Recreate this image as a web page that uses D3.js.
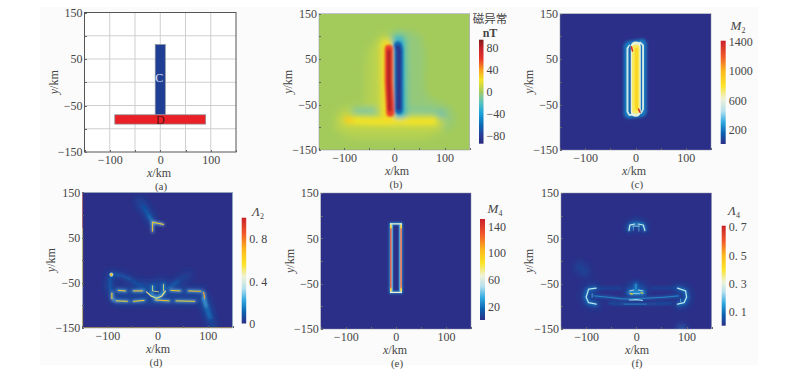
<!DOCTYPE html>
<html>
<head>
<meta charset="utf-8">
<script src="https://cdn.jsdelivr.net/npm/d3@7"></script>
<style>
  html, body { margin: 0; padding: 0; background: #fff; }
  svg { display: block; }
  text { font-family: "Liberation Serif", serif; fill: #454545; }
  .tick text { font-size: 12px; }
  .axis path, .axis line { stroke: #666; shape-rendering: crispEdges; }
</style>
</head>
<body>
<svg id="chart" width="801" height="370"></svg>
<script>
var xTicks = [-150, -100, -50, 0, 50, 100, 150];
var xLabelled = [-100, 0, 100];
var yLabelled = [150, 50, -50, -150];
var gridLines = [-100, -50, 0, 50, 100];

// panel (a): the two model bodies, [x0, x1, y0, y1] in km
var bodyC = [-10, 10, -70, 81];
var bodyD = [-90, 90, -90, -70];

// colour bars: [value, colour]
var stopsB = [[-95, '#272a7e'], [-80, '#2b3a95'], [-60, '#0a6cb5'], [-40, '#1ba0db'], [-20, '#58c3bd'], [-7, '#8cc88a'], [0, '#a3cb5b'], [8, '#c4d64a'], [22, '#f3e326'], [40, '#f9a11b'], [60, '#e8352a'], [80, '#c3202a'], [95, '#7f1a1c']];
var stopsC = [[0, '#2b2f87'], [150, '#0a62b0'], [300, '#2fa8e0'], [450, '#b5e0ee'], [620, '#eef2d8'], [800, '#fbe426'], [1000, '#fbb81c'], [1200, '#f1592a'], [1418, '#c9202a']];
var stopsD = [[0, '#2b2f87'], [0.11, '#0a62b0'], [0.22, '#2fa8e0'], [0.33, '#b5e0ee'], [0.44, '#eef2d8'], [0.56, '#fbe426'], [0.7, '#fbb81c'], [0.85, '#f1592a'], [1, '#c9202a']];
var stopsE = [[0, '#2b2f87'], [16, '#0a62b0'], [33, '#2fa8e0'], [50, '#b5e0ee'], [66, '#eef2d8'], [85, '#fbe426'], [105, '#fbb81c'], [128, '#f1592a'], [151, '#c9202a']];
var stopsF = [[0, '#2b2f87'], [0.08, '#0a62b0'], [0.16, '#2fa8e0'], [0.24, '#b5e0ee'], [0.31, '#eef2d8'], [0.4, '#fbe426'], [0.5, '#fbb81c'], [0.6, '#f1592a'], [0.71, '#c9202a']];

var ticksB = [80, 40, 0, -40, -80];
var ticksC = [1400, 1000, 600, 200];
var ticksD = [0.8, 0.4, 0];
var ticksE = [140, 100, 60, 20];
var ticksF = [0.7, 0.5, 0.3, 0.1];

// fields: closed regions [value, points] and traces [value, width km, points]
var bRegions = [
  [4.5, [[-28, 92], [-48, 78], [-56, 40], [-58, -30], [-62, -50], [-98, -55], [-116, -72], [-116, -104], [-90, -122], [0, -126], [70, -122], [100, -104], [40, -72], [4, -72], [2, 90]]],
  [-4.5, [[4, 100], [30, 112], [52, 100], [60, 66], [60, -10], [68, -34], [100, -50], [118, -68], [118, -92], [104, -106], [80, -100], [60, -74], [6, -72]]]
];
var bSoft = [
  [8, 30, [[-97, -86], [85, -88]]],
  [-15, 12, [[-78, -65], [-32, -65]]],
  [-13, 10, [[28, -64], [78, -67]]],
  [-26, 12, [[90, -72], [94, -72]]],
  [9, 38, [[-15, 84], [-15, -74]]],
  [-9, 38, [[9, 92], [10, -68]]]
];
var bMid = [
  [22, 14, [[-92, -85], [-50, -87], [40, -88], [78, -87]]],
  [28, 12, [[-95, -82], [-88, -85]]],
  [24, 24, [[-14, 80], [-14, 0], [-12, -76]]],
  [-28, 24, [[9, 88], [10, 0], [11, -68]]]
];
var bCore = [
  [58, 16, [[-11, 73], [-11, 0], [-8, -68]]],
  [-62, 17, [[7, 80], [9, 72], [9, 0], [9, -62]]],
  [84, 7, [[-11, 68], [-11, 0], [-9, -62]]],
  [-86, 9, [[7, 76], [9, 68], [9, 0], [9, -58]]]
];

var cGlow = [
  [210, 14, [[-16, 79], [-16, -71]]],
  [210, 14, [[15, 84], [15, -66]]],
  [210, 12, [[-14, 83], [14, 88]]],
  [210, 12, [[-14, -74], [14, -70]]]
];
var cLines = [
  [520, 3.8, [[-12, 80], [-16, 74], [-16, -66], [-12, -73], [-4, -72], [4, -68]]],
  [520, 3.8, [[-4, 84], [10, 86], [15, 80], [15, -60], [11, -68]]],
  [130, 3, [[-10.5, 78], [-10.5, -68]]],
  [170, 2.5, [[11, 80], [11, -62]]],
  [600, 20, [[0.5, 78], [0.5, -66]]],
  [740, 15, [[0.5, 74], [0.5, -62]]],
  [850, 7, [[2, 72], [2, -58]]],
  [1380, 3, [[-8, 77], [-6, 68]]],
  [1380, 3, [[6, -60], [9, -67]]]
];

var dBroad = [
  [0.07, 14, [[-10, 84], [-22, 108], [-36, 130]]],
  [0.06, 12, [[-95, -32], [-97, -60], [-88, -82]]],
  [0.06, 9, [[-90, -30], [-62, -38], [-38, -54], [-22, -68]]],
  [0.06, 11, [[20, -62], [42, -46], [62, -32]]],
  [0.05, 10, [[-5, -68], [-18, -58], [-30, -48]]],
  [0.1, 14, [[92, -84], [98, -105], [106, -132]]],
  [0.06, 14, [[106, -132], [110, -148]]],
  [0.07, 12, [[-82, -68], [88, -68]]],
  [0.07, 12, [[-85, -90], [75, -90]]],
  [0.06, 14, [[-10, -55], [12, -50]]]
];
var dGlow = [
  [0.17, 4, [[-10, 84], [-18, 100]]],
  [0.11, 4, [[-18, 100], [-28, 118]]],
  [0.14, 2.5, [[-90, -30], [-72, -34], [-55, -42]]],
  [0.11, 2.5, [[-55, -42], [-38, -54], [-22, -68]]],
  [0.13, 3, [[-93, -34], [-95, -60], [-88, -80]]],
  [0.13, 3, [[22, -62], [42, -46]]],
  [0.24, 5, [[92, -84], [98, -105]]],
  [0.14, 5, [[98, -105], [105, -128]]],
  [0.24, 5, [[-14, -74], [-2, -84], [14, -72]]],
  [0.2, 4, [[-10, -56], [-10, -68]]],
  [0.2, 4, [[12, -52], [12, -68]]],
  [0.28, 3.6, [[-81, -67], [-62, -68]]],
  [0.28, 3.6, [[-50, -68], [-28, -68]]],
  [0.28, 3.6, [[25, -67], [47, -68]]],
  [0.28, 3.6, [[60, -68], [88, -69]]],
  [0.28, 3.6, [[92, -70], [94, -85]]],
  [0.28, 3.6, [[-91, -72], [-91, -86], [-84, -90]]],
  [0.28, 3.6, [[-84, -90], [-58, -91]]],
  [0.28, 3.6, [[-50, -91], [-25, -89]]],
  [0.28, 3.6, [[-6, -88], [25, -90]]],
  [0.28, 3.6, [[35, -90], [76, -91]]],
  [0.3, 4, [[-10, 84], [12, 79]]],
  [0.3, 3.5, [[-10, 84], [-10, 62]]]
];
var dLines = [
  [0.62, 1.9, [[-10, 84], [12, 79]]],
  [0.64, 1.8, [[-10, 82], [-10, 64]]],
  [0.62, 1.9, [[-78, -67], [-64, -68]]],
  [0.66, 1.9, [[-48, -68], [-30, -68]]],
  [0.66, 1.9, [[27, -67], [45, -68]]],
  [0.68, 1.9, [[62, -68], [86, -69]]],
  [0.74, 2.2, [[92, -71], [94, -84]]],
  [0.66, 2, [[-91, -73], [-91, -85]]],
  [0.6, 1.9, [[-82, -90], [-60, -91]]],
  [0.62, 1.9, [[-48, -91], [-27, -89]]],
  [0.66, 1.9, [[-4, -88], [23, -90]]],
  [0.62, 1.9, [[37, -90], [74, -91]]],
  [0.5, 2, [[-22, -70], [-12, -80], [-2, -84], [8, -80], [16, -68]]],
  [0.5, 1.5, [[-10, -57], [-10, -68], [2, -70]]],
  [0.52, 1.5, [[12, -54], [12, -68]]],
  [0.3, 8, [[-92, -32], [-92, -32.5]]],
  [0.7, 5, [[-92, -32], [-92, -32.5]]]
];
var dEdges = [
  [0.98, 3, [[-150, 150], [-150, 70]]],
  [0.6, 3, [[-150, 70], [-150, -60]]],
  [0.38, 3, [[-150, -60], [-150, -105]]],
  [0.58, 3, [[-150, -105], [-150, -150]]],
  [0.62, 2, [[-150, -150], [150, -150]]],
  [0.35, 1.5, [[-150, 150], [150, 150]]],
  [0.3, 2, [[150, 150], [150, -150]]]
];

var eGlow = [
  [26, 6, [[-10, 82], [-10, -69]]],
  [26, 6, [[10.5, 82], [10.5, -69]]],
  [26, 5, [[-10, 82], [10.5, 82]]],
  [26, 5, [[-10, -69], [10.5, -69]]]
];
var eLines = [
  [40, 1.5, [[-6.5, 80], [-6.5, -66]]],
  [40, 1.5, [[7, 80], [7, -66]]],
  [66, 2.6, [[-10, 82], [10.5, 82]]],
  [66, 2.6, [[-10, -69], [10.5, -69]]],
  [58, 3.6, [[-10, 82], [-10, -69]]],
  [58, 3.6, [[10.5, 82], [10.5, -69]]],
  [140, 2.4, [[-10, 72], [-10, -60]]],
  [134, 2.4, [[10.5, 72], [10.5, -60]]],
  [95, 2.6, [[-10, 79], [-10, 72]]],
  [95, 2.6, [[10.5, 79], [10.5, 72]]],
  [95, 2.6, [[-10, -60], [-10, -66]]],
  [95, 2.6, [[10.5, -60], [10.5, -66]]]
];

var fBroad = [
  [0.035, 20, [[-114, -12], [-102, -24]]],
  [0.05, 14, [[-82, -60], [-97, -63], [-101, -80], [-96, -92], [-80, -96]]],
  [0.05, 14, [[83, -60], [98, -66], [101, -80], [96, -92], [83, -96]]],
  [0.06, 14, [[-14, 74], [-4, 82], [4, 82], [15, 74]]],
  [0.07, 18, [[-12, -66], [0, -58], [12, -66]]],
  [0.14, 12, [[90, -150], [90, -151]]]
];
var fGlow = [
  [0.1, 6, [[-82, -60], [-97, -63], [-101, -80], [-96, -92], [-80, -96]]],
  [0.1, 6, [[83, -60], [98, -66], [101, -80], [96, -92], [83, -96]]],
  [0.12, 5, [[-15, 68], [-12, 80], [-3, 82], [4, 82], [14, 80], [17, 68]]],
  [0.08, 2.5, [[-78, -60], [-30, -60]]],
  [0.08, 2.5, [[30, -60], [80, -60]]],
  [0.11, 3, [[-84, -77], [-55, -80], [-25, -84], [20, -82], [55, -80], [84, -77]]],
  [0.09, 3, [[-55, -93], [-20, -95], [20, -95], [70, -93]]],
  [0.12, 5, [[-1, -50], [-1, -62]]],
  [0.14, 8, [[-14, -70], [14, -70]]]
];
var fLines = [
  [0.25, 2.5, [[-80, -60], [-95, -62], [-100, -80], [-95, -92], [-80, -95]]],
  [0.25, 2.5, [[82, -60], [98, -66], [100, -80], [95, -92], [82, -95]]],
  [0.15, 1.3, [[-84, -77], [-55, -80], [-25, -84], [20, -82], [55, -80], [84, -77]]],
  [0.13, 1.5, [[-25, -95], [20, -95]]],
  [0.22, 2.4, [[-14, -86], [0, -85], [12, -87]]],
  [0.18, 1.6, [[-88, -72], [-88, -80]]],
  [0.18, 1.6, [[88, -84], [88, -90]]],
  [0.26, 2.4, [[-14.7, 67], [-13, 79], [-3, 81.6]]],
  [0.26, 2.4, [[17, 67], [13.7, 79.4], [3.7, 81.6]]],
  [0.24, 1.6, [[-7, 77], [6, 77]]],
  [0.2, 1.3, [[-6, 77], [-6, 68]]],
  [0.2, 1.3, [[5, 77], [5, 66]]],
  [0.25, 1.8, [[-13, -66], [-5, -64]]],
  [0.25, 1.8, [[4, -64], [13, -66]]],
  [0.24, 1.5, [[-6, -72], [6, -72]]],
  [0.44, 2.5, [[-12, -72], [-8, -73]]],
  [0.42, 2.2, [[9, -70], [13, -71]]],
  [0.17, 1.5, [[-1, -52], [-1, -62]]]
];

var svg = d3.select('#chart');
var defs = svg.append('defs');

// faint off-white sheet behind the figure
svg.append('rect').attr('x', 40).attr('y', 7).attr('width', 718).attr('height', 358).attr('fill', '#fbfbfb');

[0.5, 0.7, 1, 1.6, 2.5, 3.5].forEach(s => {
  defs.append('filter')
    .attr('id', 'blur' + String(s).replace('.', '_'))
    .attr('filterUnits', 'userSpaceOnUse')
    .attr('x', 0).attr('y', 0).attr('width', 801).attr('height', 370)
    .append('feGaussianBlur').attr('stdDeviation', s);
});

var blurId = s => `url(#blur${ String(s).replace('.', '_') })`;

var colorOf = stops => d3.scaleLinear()
  .domain(stops.map(d => d[0]))
  .range(stops.map(d => d[1]))
  .clamp(true);

var drawPanel = (p) => {
  var x = d3.scaleLinear().domain([-150, 150]).range([p.left, p.right]);
  var y = d3.scaleLinear().domain([-150, 150]).range([p.bottom, p.top]);
  var color = p.stops ? colorOf(p.stops) : null;
  var kmPx = d3.scaleLinear().domain([0, 300]).range([0, p.right - p.left]);
  var line = d3.line().x(d => x(d[0])).y(d => y(d[1]));
  var closed = d3.line().x(d => x(d[0])).y(d => y(d[1])).curve(d3.curveCatmullRomClosed.alpha(0.5));

  var clipId = 'clip-' + p.name;
  defs.append('clipPath').attr('id', clipId).append('rect')
    .attr('x', p.left).attr('y', p.top)
    .attr('width', p.right - p.left).attr('height', p.bottom - p.top);

  var plot = svg.append('g').attr('clip-path', `url(#${ clipId })`);
  plot.append('rect')
    .attr('x', p.left).attr('y', p.top)
    .attr('width', p.right - p.left).attr('height', p.bottom - p.top)
    .attr('fill', p.stops ? color(p.base) : '#fff');

  (p.layers || []).forEach(layer => {
    var g = plot.append('g').attr('filter', blurId(layer.blur));
    if (layer.regions) {
      g.selectAll('path').data(layer.regions).enter().append('path')
        .attr('d', d => closed(d[1]))
        .attr('fill', d => color(d[0]));
    }
    if (layer.traces) {
      g.selectAll('path.trace').data(layer.traces).enter().append('path')
        .attr('class', 'trace')
        .attr('d', d => line(d[2]))
        .attr('fill', 'none')
        .attr('stroke', d => color(d[0]))
        .attr('stroke-width', d => kmPx(d[1]))
        .attr('stroke-linecap', 'round')
        .attr('stroke-linejoin', 'round');
    }
  });

  if (p.grid) {
    plot.selectAll('line.gx').data(gridLines).enter().append('line')
      .attr('x1', d => x(d)).attr('x2', d => x(d)).attr('y1', p.top).attr('y2', p.bottom)
      .attr('stroke', '#cfcfcf').attr('stroke-width', 1);
    plot.selectAll('line.gy').data(gridLines).enter().append('line')
      .attr('y1', d => y(d)).attr('y2', d => y(d)).attr('x1', p.left).attr('x2', p.right)
      .attr('stroke', '#cfcfcf').attr('stroke-width', 1);
    [bodyC, bodyD].forEach((b, i) => {
      plot.append('rect')
        .attr('x', x(b[0])).attr('width', x(b[1]) - x(b[0]))
        .attr('y', y(b[3])).attr('height', y(b[2]) - y(b[3]))
        .attr('fill', i ? '#ea2027' : '#1f3f94')
        .attr('stroke', '#8a8f9a').attr('stroke-width', 0.7);
    });
    svg.append('text').attr('x', x(-2)).attr('y', y(10)).attr('dy', '.35em')
      .attr('text-anchor', 'middle').style('font-size', '12px').style('fill', '#dfe6f4').text('C');
    svg.append('text').attr('x', x(0)).attr('y', y(-80)).attr('dy', '.35em')
      .attr('text-anchor', 'middle').style('font-size', '12px').style('fill', '#5a0f14').text('D');
  }

  // frame and axes
  svg.append('rect')
    .attr('x', p.left).attr('y', p.top)
    .attr('width', p.right - p.left).attr('height', p.bottom - p.top)
    .attr('fill', 'none').attr('stroke', p.grid ? '#555' : '#8c8fa8').attr('stroke-width', p.grid ? 1 : 0.5);

  var xAxis = d3.axisBottom(x).tickValues(xTicks).tickSize(-2).tickPadding(3)
    .tickFormat(d => xLabelled.includes(d) ? String(d).replace('-', '\u2212') : '');
  var yAxis = d3.axisLeft(y).tickValues(xTicks).tickSize(-2).tickPadding(2)
    .tickFormat(d => yLabelled.includes(d) ? String(d).replace('-', '\u2212') : '');

  svg.append('g').attr('class', 'axis').attr('transform', `translate(0, ${ p.bottom })`).call(xAxis)
    .call(g => g.select('.domain').remove())
    .call(g => g.selectAll('.tick text').filter(d => !xLabelled.includes(d)).remove());
  svg.append('g').attr('class', 'axis').attr('transform', `translate(${ p.left }, 0)`).call(yAxis)
    .call(g => g.select('.domain').remove())
    .call(g => g.selectAll('.tick text').filter(d => !yLabelled.includes(d)).remove());

  var xl = svg.append('text').attr('x', p.xLabelX).attr('y', p.bottom + 24.5).attr('text-anchor', 'middle').style('font-size', '12px');
  xl.append('tspan').style('font-style', 'italic').text('x');
  xl.append('tspan').text('/km');
  svg.append('text').attr('x', p.capX).attr('y', p.bottom + 37.5).attr('text-anchor', 'middle').style('font-size', '11px').text(p.caption);

  var yl = svg.append('text').attr('transform', `translate(${ p.yLabelX }, ${ (p.top + p.bottom) / 2 }) rotate(-90)`)
    .attr('text-anchor', 'middle').style('font-size', '12px');
  yl.append('tspan').style('font-style', 'italic').text('y');
  yl.append('tspan').text('/km');

  if (!p.stops) return;

  // colour bar
  var barScale = d3.scaleLinear().domain(p.barDomain).range([p.barBottom, p.barTop]);
  var gradId = 'grad-' + p.name;
  var grad = defs.append('linearGradient').attr('id', gradId).attr('x1', 0).attr('x2', 0).attr('y1', 1).attr('y2', 0);
  p.stops.forEach(s => {
    grad.append('stop')
      .attr('offset', (s[0] - p.barDomain[0]) / (p.barDomain[1] - p.barDomain[0]))
      .attr('stop-color', s[1]);
  });
  svg.append('rect')
    .attr('x', p.barX).attr('y', p.barTop)
    .attr('width', p.barW).attr('height', p.barBottom - p.barTop)
    .attr('fill', `url(#${ gradId })`);
  var barAxis = d3.axisRight(barScale).tickValues(p.barTicks).tickSize(0).tickPadding(3)
    .tickFormat(d => p.spaced ? String(d).replace('.', '. ') : String(d).replace('-', '\u2212'));
  svg.append('g').attr('class', 'axis')
    .attr('transform', `translate(${ p.barX + p.barW }, 0)`).call(barAxis)
    .call(g => g.select('.domain').remove());

  // colour bar title
  if (p.title) {
    var t = svg.append('text').attr('x', p.titleX).attr('y', p.titleY).attr('text-anchor', 'middle').style('font-size', '13px');
    t.append('tspan').style('font-style', 'italic').text(p.title);
    t.append('tspan').attr('dy', 3).style('font-size', '8px').text(p.sub);
  }
};

var panels = [
  { name: 'a', left: 84.5, right: 236, top: 12.5, bottom: 152, grid: true, xLabelX: 159, capX: 161, yLabelX: 58, caption: '(a)' },
  { name: 'b', left: 319, right: 469.7, top: 13.7, bottom: 150, xLabelX: 397, capX: 396, yLabelX: 292, caption: '(b)',
    stops: stopsB, base: 0, barDomain: [-95, 95], barX: 479, barW: 4.5, barTop: 39.7, barBottom: 143.7, barTicks: ticksB,
    layers: [{ blur: 3.5, regions: bRegions, traces: bSoft }, { blur: 2.5, traces: bMid }, { blur: 1, traces: bCore }] },
  { name: 'c', left: 560, right: 711, top: 13.7, bottom: 150, xLabelX: 634, capX: 637, yLabelX: 533, caption: '(c)',
    stops: stopsC, base: 0, barDomain: [0, 1418], barX: 720.7, barW: 5, barTop: 40.7, barBottom: 144, barTicks: ticksC,
    title: 'M', sub: '2', titleX: 738, titleY: 30,
    layers: [{ blur: 1.6, traces: cGlow }, { blur: 0.7, traces: cLines }] },
  { name: 'd', left: 82.3, right: 232.7, top: 192.3, bottom: 328, xLabelX: 158, capX: 156, yLabelX: 55, caption: '(d)',
    stops: stopsD, base: 0, barDomain: [0, 1], barX: 241.7, barW: 4.5, barTop: 217.7, barBottom: 323.5, barTicks: ticksD, spaced: true,
    title: '\u039b', sub: '2', titleX: 258, titleY: 216,
    layers: [{ blur: 3.5, traces: dBroad }, { blur: 1.6, traces: dGlow }, { blur: 0.5, traces: dEdges }, { blur: 0.7, traces: dLines }] },
  { name: 'e', left: 320.7, right: 471, top: 193, bottom: 329, xLabelX: 395, capX: 397, yLabelX: 294, caption: '(e)',
    stops: stopsE, base: 0, barDomain: [0, 151], barX: 480, barW: 5, barTop: 219, barBottom: 320, barTicks: ticksE,
    title: 'M', sub: '4', titleX: 495, titleY: 213,
    layers: [{ blur: 1, traces: eGlow }, { blur: 0.5, traces: eLines }] },
  { name: 'f', left: 561, right: 711.7, top: 193, bottom: 329, xLabelX: 637, capX: 637, yLabelX: 533, caption: '(f)',
    stops: stopsF, base: 0, barDomain: [0, 0.71], barX: 721.7, barW: 4, barTop: 225.7, barBottom: 325.7, barTicks: ticksF, spaced: true,
    title: '\u039b', sub: '4', titleX: 734, titleY: 215,
    layers: [{ blur: 3.5, traces: fBroad }, { blur: 1.6, traces: fGlow }, { blur: 0.7, traces: fLines }] }
];

panels.forEach(drawPanel);

// unit block above the colour bar of panel (b)
svg.append('text').attr('x', 490).attr('y', 23).attr('text-anchor', 'middle')
  .style('font-family', '"Noto Sans CJK SC"').style('font-size', '11.5px').text('磁异常');
svg.append('text').attr('x', 490).attr('y', 37).attr('text-anchor', 'middle')
  .style('font-size', '12px').style('font-weight', 'bold').text('nT');
</script>
</body>
</html>
